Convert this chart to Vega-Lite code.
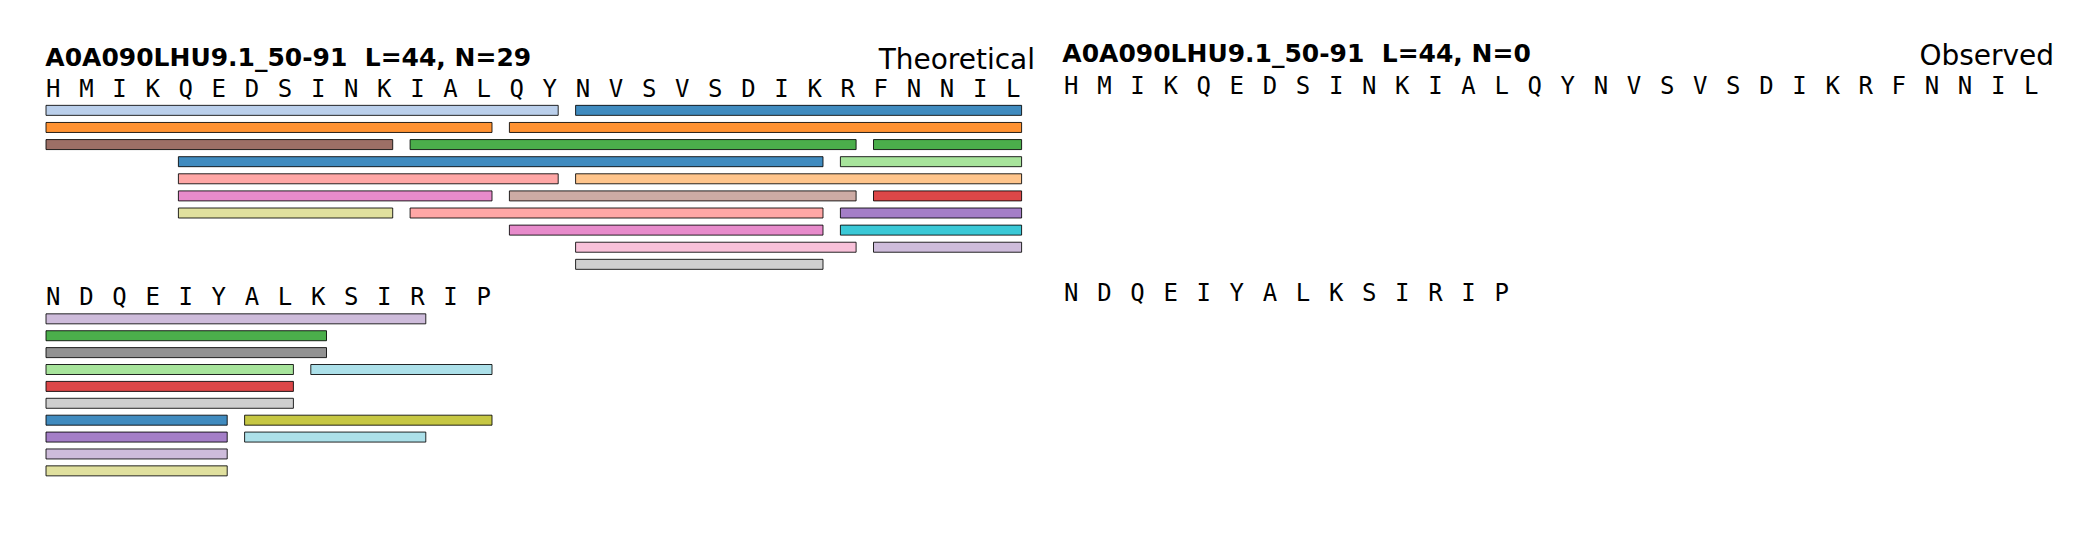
{
  "$schema": "https://vega.github.io/schema/vega-lite/v6.json",
  "padding": {"left": 36.75, "top": 19.8, "right": 5, "bottom": 5},
  "autosize": {"type": "pad"},
  "bounds": "flush",
  "columns": 2,
  "spacing": {"row": 9.7, "column": 25},
  "config": {"view": {"stroke": null}},
  "datasets": {
    "letters": [
      {"block": 1, "pos": 0, "letter": "H"}, {"block": 1, "pos": 1, "letter": "M"}, {"block": 1, "pos": 2, "letter": "I"}, {"block": 1, "pos": 3, "letter": "K"}, {"block": 1, "pos": 4, "letter": "Q"},
      {"block": 1, "pos": 5, "letter": "E"}, {"block": 1, "pos": 6, "letter": "D"}, {"block": 1, "pos": 7, "letter": "S"}, {"block": 1, "pos": 8, "letter": "I"}, {"block": 1, "pos": 9, "letter": "N"},
      {"block": 1, "pos": 10, "letter": "K"}, {"block": 1, "pos": 11, "letter": "I"}, {"block": 1, "pos": 12, "letter": "A"}, {"block": 1, "pos": 13, "letter": "L"}, {"block": 1, "pos": 14, "letter": "Q"},
      {"block": 1, "pos": 15, "letter": "Y"}, {"block": 1, "pos": 16, "letter": "N"}, {"block": 1, "pos": 17, "letter": "V"}, {"block": 1, "pos": 18, "letter": "S"}, {"block": 1, "pos": 19, "letter": "V"},
      {"block": 1, "pos": 20, "letter": "S"}, {"block": 1, "pos": 21, "letter": "D"}, {"block": 1, "pos": 22, "letter": "I"}, {"block": 1, "pos": 23, "letter": "K"}, {"block": 1, "pos": 24, "letter": "R"},
      {"block": 1, "pos": 25, "letter": "F"}, {"block": 1, "pos": 26, "letter": "N"}, {"block": 1, "pos": 27, "letter": "N"}, {"block": 1, "pos": 28, "letter": "I"}, {"block": 1, "pos": 29, "letter": "L"},
      {"block": 2, "pos": 0, "letter": "N"}, {"block": 2, "pos": 1, "letter": "D"}, {"block": 2, "pos": 2, "letter": "Q"}, {"block": 2, "pos": 3, "letter": "E"}, {"block": 2, "pos": 4, "letter": "I"},
      {"block": 2, "pos": 5, "letter": "Y"}, {"block": 2, "pos": 6, "letter": "A"}, {"block": 2, "pos": 7, "letter": "L"}, {"block": 2, "pos": 8, "letter": "K"}, {"block": 2, "pos": 9, "letter": "S"},
      {"block": 2, "pos": 10, "letter": "I"}, {"block": 2, "pos": 11, "letter": "R"}, {"block": 2, "pos": 12, "letter": "I"}, {"block": 2, "pos": 13, "letter": "P"}
    ],
    "bars": [
      {"block": 1, "track": 1, "start": 0, "end": 15, "peptide": "p1"},
      {"block": 1, "track": 1, "start": 16, "end": 29, "peptide": "p2"},
      {"block": 1, "track": 2, "start": 0, "end": 13, "peptide": "p3"},
      {"block": 1, "track": 2, "start": 14, "end": 29, "peptide": "p4"},
      {"block": 1, "track": 3, "start": 0, "end": 10, "peptide": "p5"},
      {"block": 1, "track": 3, "start": 11, "end": 24, "peptide": "p6"},
      {"block": 1, "track": 3, "start": 25, "end": 29, "peptide": "p7"},
      {"block": 1, "track": 4, "start": 4, "end": 23, "peptide": "p8"},
      {"block": 1, "track": 4, "start": 24, "end": 29, "peptide": "p9"},
      {"block": 1, "track": 5, "start": 4, "end": 15, "peptide": "p10"},
      {"block": 1, "track": 5, "start": 16, "end": 29, "peptide": "p11"},
      {"block": 1, "track": 6, "start": 4, "end": 13, "peptide": "p12"},
      {"block": 1, "track": 6, "start": 14, "end": 24, "peptide": "p13"},
      {"block": 1, "track": 6, "start": 25, "end": 29, "peptide": "p14"},
      {"block": 1, "track": 7, "start": 4, "end": 10, "peptide": "p15"},
      {"block": 1, "track": 7, "start": 11, "end": 23, "peptide": "p16"},
      {"block": 1, "track": 7, "start": 24, "end": 29, "peptide": "p17"},
      {"block": 1, "track": 8, "start": 14, "end": 23, "peptide": "p18"},
      {"block": 1, "track": 8, "start": 24, "end": 29, "peptide": "p19"},
      {"block": 1, "track": 9, "start": 16, "end": 24, "peptide": "p20"},
      {"block": 1, "track": 9, "start": 25, "end": 29, "peptide": "p21"},
      {"block": 1, "track": 10, "start": 16, "end": 23, "peptide": "p22"},
      {"block": 2, "track": 1, "start": 0, "end": 11, "peptide": "p21"},
      {"block": 2, "track": 2, "start": 0, "end": 8, "peptide": "p7"},
      {"block": 2, "track": 3, "start": 0, "end": 8, "peptide": "p23"},
      {"block": 2, "track": 4, "start": 0, "end": 7, "peptide": "p9"},
      {"block": 2, "track": 4, "start": 8, "end": 13, "peptide": "p24"},
      {"block": 2, "track": 5, "start": 0, "end": 7, "peptide": "p14"},
      {"block": 2, "track": 6, "start": 0, "end": 7, "peptide": "p25"},
      {"block": 2, "track": 7, "start": 0, "end": 5, "peptide": "p2"},
      {"block": 2, "track": 7, "start": 6, "end": 13, "peptide": "p26"},
      {"block": 2, "track": 8, "start": 0, "end": 5, "peptide": "p17"},
      {"block": 2, "track": 8, "start": 6, "end": 11, "peptide": "p27"},
      {"block": 2, "track": 9, "start": 0, "end": 5, "peptide": "p28"},
      {"block": 2, "track": 10, "start": 0, "end": 5, "peptide": "p29"}
    ]
  },
  "concat": [
    {
      "width": 993, "height": 258.1,
      "layer": [
        {
          "data": {"name": "letters"},
          "transform": [{"filter": "datum.block == 1"}],
          "mark": {"type": "text", "font": "DejaVu Sans Mono", "fontSize": 24, "baseline": "alphabetic", "align": "center", "dy": 3.4, "color": "black"},
          "encoding": {
            "x": {"field": "pos", "type": "quantitative", "scale": {"domain": [-0.5, 29.5], "nice": false, "zero": false}, "axis": null},
            "y": {"datum": 0, "type": "quantitative", "scale": {"domain": [-4, 10.5], "reverse": true, "nice": false, "zero": false}, "axis": null},
            "text": {"field": "letter"}
          }
        },
        {
          "data": {"name": "bars"},
          "transform": [{"filter": "datum.block == 1"}],
          "mark": {"type": "bar", "size": 10, "xOffset": -7.3, "x2Offset": 8.4, "fillOpacity": 0.85, "stroke": "#000000", "strokeOpacity": 0.85, "strokeWidth": 1},
          "encoding": {
            "x": {"field": "start", "type": "quantitative", "scale": {"domain": [-0.5, 29.5], "nice": false, "zero": false}, "axis": null},
            "x2": {"field": "end"},
            "y": {"field": "track", "type": "quantitative", "scale": {"domain": [-4, 10.5], "reverse": true, "nice": false, "zero": false}, "axis": null},
            "color": {"field": "peptide", "type": "nominal", "legend": null,
              "scale": {"domain": ["p1","p2","p3","p4","p5","p6","p7","p8","p9","p10","p11","p12","p13","p14","p15","p16","p17","p18","p19","p20","p21","p22","p23","p24","p25","p26","p27","p28","p29"],
                        "range": ["#aec7e8","#1f77b4","#ff7f0e","#ff7f0e","#8c564b","#2ca02c","#2ca02c","#1f77b4","#98df8a","#ff9896","#ffbb78","#e377c2","#c49c94","#d62728","#dbdb8d","#ff9896","#9467bd","#e377c2","#17becf","#f7b6d2","#c5b0d5","#c7c7c7","#7f7f7f","#9edae5","#c7c7c7","#bcbd22","#9edae5","#c5b0d5","#dbdb8d"]}}
          }
        },
        {
          "data": {"values": [{"title": "A0A090LHU9.1_50-91\u00a0 L=44, N=29", "label": "Theoretical"}]},
          "mark": {"type": "text", "font": "DejaVu Sans", "fontWeight": "bold", "fontSize": 25, "align": "left", "baseline": "alphabetic", "color": "black"},
          "encoding": {
            "x": {"datum": -0.24, "type": "quantitative", "scale": {"domain": [-0.5, 29.5], "nice": false, "zero": false}, "axis": null},
            "y": {"datum": -1.61, "type": "quantitative", "scale": {"domain": [-4, 10.5], "reverse": true, "nice": false, "zero": false}, "axis": null},
            "text": {"field": "title"}
          }
        },
        {
          "data": {"values": [{"title": "A0A090LHU9.1_50-91\u00a0 L=44, N=29", "label": "Theoretical"}]},
          "mark": {"type": "text", "font": "DejaVu Sans", "fontSize": 28, "align": "right", "baseline": "alphabetic", "color": "black"},
          "encoding": {
            "x": {"datum": 29.66, "type": "quantitative", "scale": {"domain": [-0.5, 29.5], "nice": false, "zero": false}, "axis": null},
            "y": {"datum": -1.4, "type": "quantitative", "scale": {"domain": [-4, 10.5], "reverse": true, "nice": false, "zero": false}, "axis": null},
            "text": {"field": "label"}
          }
        }
      ]
    },
    {
      "width": 993, "height": 258.1,
      "layer": [
        {
          "data": {"name": "letters"},
          "transform": [{"filter": "datum.block == 1"}],
          "mark": {"type": "text", "font": "DejaVu Sans Mono", "fontSize": 24, "baseline": "alphabetic", "align": "center", "dy": 3.4, "color": "black"},
          "encoding": {
            "x": {"field": "pos", "type": "quantitative", "scale": {"domain": [-0.5, 29.5], "nice": false, "zero": false}, "axis": null},
            "y": {"datum": 0, "type": "quantitative", "scale": {"domain": [-4, 10.5], "reverse": true, "nice": false, "zero": false}, "axis": null},
            "text": {"field": "letter"}
          }
        },
        {
          "data": {"values": [{"title": "A0A090LHU9.1_50-91\u00a0 L=44, N=0", "label": "Observed"}]},
          "mark": {"type": "text", "font": "DejaVu Sans", "fontWeight": "bold", "fontSize": 25, "align": "left", "baseline": "alphabetic", "color": "black"},
          "encoding": {
            "x": {"datum": -0.27, "type": "quantitative", "scale": {"domain": [-0.5, 29.5], "nice": false, "zero": false}, "axis": null},
            "y": {"datum": -1.61, "type": "quantitative", "scale": {"domain": [-4, 10.5], "reverse": true, "nice": false, "zero": false}, "axis": null},
            "text": {"field": "title"}
          }
        },
        {
          "data": {"values": [{"title": "A0A090LHU9.1_50-91\u00a0 L=44, N=0", "label": "Observed"}]},
          "mark": {"type": "text", "font": "DejaVu Sans", "fontSize": 28, "align": "right", "baseline": "alphabetic", "color": "black"},
          "encoding": {
            "x": {"datum": 29.69, "type": "quantitative", "scale": {"domain": [-0.5, 29.5], "nice": false, "zero": false}, "axis": null},
            "y": {"datum": -1.45, "type": "quantitative", "scale": {"domain": [-4, 10.5], "reverse": true, "nice": false, "zero": false}, "axis": null},
            "text": {"field": "label"}
          }
        }
      ]
    },
    {
      "width": 993, "height": 195.8,
      "layer": [
        {
          "data": {"name": "letters"},
          "transform": [{"filter": "datum.block == 2"}],
          "mark": {"type": "text", "font": "DejaVu Sans Mono", "fontSize": 24, "baseline": "alphabetic", "align": "center", "dy": 3.4, "color": "black"},
          "encoding": {
            "x": {"field": "pos", "type": "quantitative", "scale": {"domain": [-0.5, 29.5], "nice": false, "zero": false}, "axis": null},
            "y": {"datum": 0, "type": "quantitative", "scale": {"domain": [-0.5, 10.5], "reverse": true, "nice": false, "zero": false}, "axis": null},
            "text": {"field": "letter"}
          }
        },
        {
          "data": {"name": "bars"},
          "transform": [{"filter": "datum.block == 2"}],
          "mark": {"type": "bar", "size": 10, "xOffset": -7.3, "x2Offset": 8.4, "fillOpacity": 0.85, "stroke": "#000000", "strokeOpacity": 0.85, "strokeWidth": 1},
          "encoding": {
            "x": {"field": "start", "type": "quantitative", "scale": {"domain": [-0.5, 29.5], "nice": false, "zero": false}, "axis": null},
            "x2": {"field": "end"},
            "y": {"field": "track", "type": "quantitative", "scale": {"domain": [-0.5, 10.5], "reverse": true, "nice": false, "zero": false}, "axis": null},
            "color": {"field": "peptide", "type": "nominal", "legend": null,
              "scale": {"domain": ["p1","p2","p3","p4","p5","p6","p7","p8","p9","p10","p11","p12","p13","p14","p15","p16","p17","p18","p19","p20","p21","p22","p23","p24","p25","p26","p27","p28","p29"],
                        "range": ["#aec7e8","#1f77b4","#ff7f0e","#ff7f0e","#8c564b","#2ca02c","#2ca02c","#1f77b4","#98df8a","#ff9896","#ffbb78","#e377c2","#c49c94","#d62728","#dbdb8d","#ff9896","#9467bd","#e377c2","#17becf","#f7b6d2","#c5b0d5","#c7c7c7","#7f7f7f","#9edae5","#c7c7c7","#bcbd22","#9edae5","#c5b0d5","#dbdb8d"]}}
          }
        }
      ]
    },
    {
      "width": 993, "height": 195.8,
      "layer": [
        {
          "data": {"name": "letters"},
          "transform": [{"filter": "datum.block == 2"}],
          "mark": {"type": "text", "font": "DejaVu Sans Mono", "fontSize": 24, "baseline": "alphabetic", "align": "center", "dy": 3.4, "color": "black"},
          "encoding": {
            "x": {"field": "pos", "type": "quantitative", "scale": {"domain": [-0.5, 29.5], "nice": false, "zero": false}, "axis": null},
            "y": {"datum": 0, "type": "quantitative", "scale": {"domain": [-0.5, 10.5], "reverse": true, "nice": false, "zero": false}, "axis": null},
            "text": {"field": "letter"}
          }
        }
      ]
    }
  ]
}
